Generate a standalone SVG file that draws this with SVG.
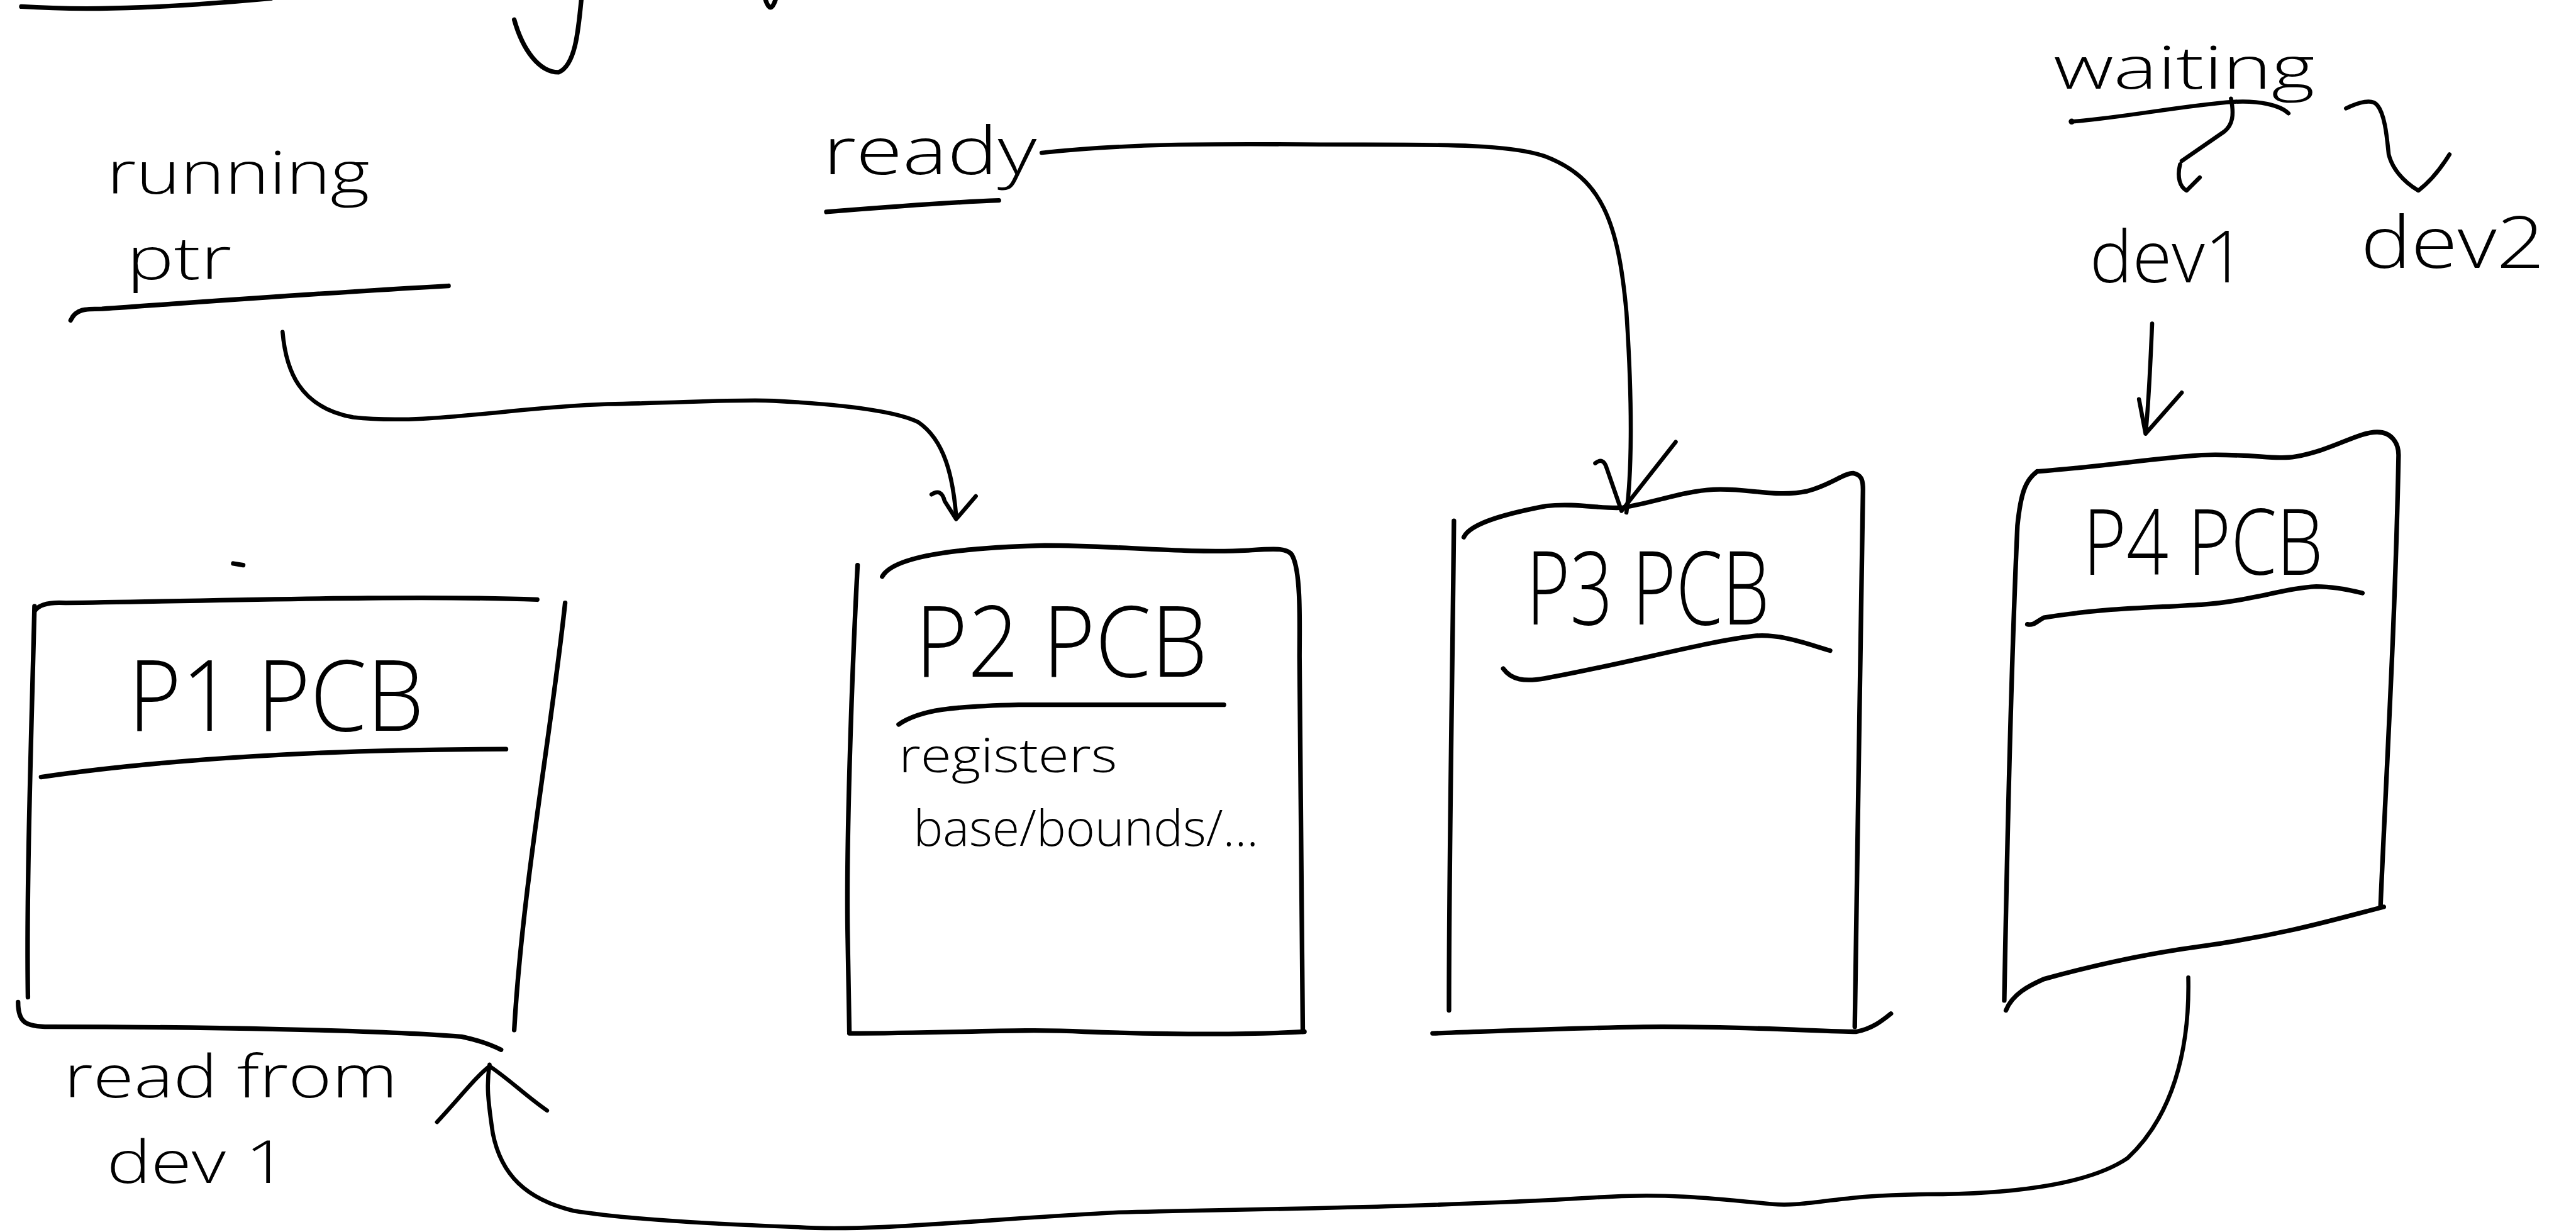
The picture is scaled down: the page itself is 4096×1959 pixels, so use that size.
<svg xmlns="http://www.w3.org/2000/svg" width="4096" height="1959" viewBox="0 0 4096 1959">
<style>
.s{fill:none;stroke:#000;stroke-width:2.8;stroke-linecap:round;stroke-linejoin:round}
.c{fill:none;stroke:#000;stroke-width:2.5;stroke-linecap:round;stroke-linejoin:round}
.t{font-family:"Open Sans","Liberation Sans",sans-serif;font-weight:300;fill:#000}
</style>
<rect width="4096" height="1959" fill="#fff"/>
<g transform="scale(2.61224)">
<g id="fragments">
<path class="s" d="M13,4 C60,7 110,4 165,-1"/>
<path class="s" d="M313,12 C318,30 328,44 340,44 C350,40 352,20 354,-2"/>
<path class="s" d="M466,0 Q469,9 472,0"/>
</g>
<g id="running-ptr">
<text class="t" x="65" y="118" font-size="36" textLength="160" lengthAdjust="spacingAndGlyphs">running</text>
<text class="t" x="77" y="170" font-size="36" textLength="64" lengthAdjust="spacingAndGlyphs">ptr</text>
<path class="s" d="M43,195 C46,188 52,188 62,188 C120,184 200,178 273,174"/>
</g>
<g id="ready">
<text class="t" x="501" y="106" font-size="40" textLength="130" lengthAdjust="spacingAndGlyphs">ready</text>
<path class="s" d="M503,129 C540,126 580,123 608,122"/>
</g>
<g id="waiting">
<text class="t" x="1250" y="54" font-size="36" textLength="159" lengthAdjust="spacingAndGlyphs">waiting</text>
</g>
<g id="dev1">
<text class="t" x="1272" y="172" font-size="44" textLength="95" lengthAdjust="spacingAndGlyphs">dev1</text>
</g>
<g id="dev2">
<text class="t" x="1437" y="163" font-size="44" textLength="112" lengthAdjust="spacingAndGlyphs">dev2</text>
</g>
<g id="p1">
<path class="s" d="M21,372 Q25,366 40,367 C120,366 250,362 327,365"/>
<path class="s" d="M21,369 C19,450 16,540 17,607"/>
<path class="s" d="M344,367 C335,450 318,540 313,627"/>
<path class="s" d="M11,610 C11,622 15,625 30,625 C120,625 230,627 281,631 Q295,634 305,639"/>
<path class="s" d="M25,473 C100,462 200,456 308,456"/>
<path class="s" d="M142,343 L148,344"/>
<text class="t" x="78" y="445" font-size="60" textLength="180" lengthAdjust="spacingAndGlyphs">P1 PCB</text>
<text class="t" x="39" y="668" font-size="36" textLength="203" lengthAdjust="spacingAndGlyphs">read from</text>
<text class="t" x="65" y="720" font-size="36" textLength="110" lengthAdjust="spacingAndGlyphs">dev 1</text>
</g>
<g id="p2">
<path class="s" d="M537,351 C545,336 600,333 636,332 C680,332 720,337 760,335 C775,334 785,333 787,339 C792,350 791,380 791,400 L793,628"/>
<path class="s" d="M522,344 C518,420 515,520 516,571 L517,628"/>
<path class="s" d="M517,629 C580,629 620,626 660,628 C720,630 760,630 794,628"/>
<path class="s" d="M547,441 C560,432 580,430 620,429 L745,429"/>
<text class="t" x="557" y="412" font-size="60" textLength="178" lengthAdjust="spacingAndGlyphs">P2 PCB</text>
<text class="t" x="547" y="470" font-size="29" textLength="133" lengthAdjust="spacingAndGlyphs">registers</text>
<text class="t" x="556" y="515" font-size="30" textLength="210" lengthAdjust="spacingAndGlyphs">base/bounds/...</text>
</g>
<g id="p3">
<path class="s" d="M891,327 C895,318 920,312 941,308 C960,306 975,310 988,309 C1010,305 1025,299 1043,298 C1065,297 1080,303 1100,299 C1115,295 1122,288 1128,288 C1133,289 1134,292 1134,298 C1133,400 1130,520 1129,625"/>
<path class="s" d="M885,317 C884,420 882,520 882,615"/>
<path class="s" d="M872,629 C930,627 980,625 1012,625 C1070,625 1110,628 1130,628 C1140,626 1146,621 1151,617"/>
<path class="s" d="M915,407 C920,414 928,415 940,413 C990,404 1040,390 1069,387 C1085,386 1100,392 1114,396"/>
<text class="t" x="929" y="380" font-size="62" textLength="148" lengthAdjust="spacingAndGlyphs">P3 PCB</text>
</g>
<g id="p4">
<path class="s" d="M1240,287 C1280,284 1310,279 1340,277 C1370,276 1385,280 1397,278 C1420,274 1435,263 1447,263 C1456,263 1460,270 1460,277 C1458,380 1452,480 1449,552"/>
<path class="s" d="M1221,615 C1225,605 1235,600 1244,596 C1280,586 1310,580 1340,576 C1390,569 1420,560 1451,552"/>
<path class="s" d="M1240,287 C1233,292 1230,300 1228,320 C1225,386 1222,500 1220,609"/>
<path class="s" d="M1234,380 C1238,381 1240,378 1244,376 C1280,370 1310,370 1340,368 C1370,366 1390,358 1410,357 C1420,357 1430,359 1438,361"/>
<text class="t" x="1268" y="350" font-size="56" textLength="146" lengthAdjust="spacingAndGlyphs">P4 PCB</text>
</g>
<g id="connectors">
<path class="c" d="M172,202 C174,225 182,248 215,254 C260,259 310,248 370,246 C420,245 450,243 471,244 C510,246 545,250 559,257 C575,268 580,290 582,314"/>
<path class="c" d="M567,301 Q573,297 575,305 L582,316 L594,302"/>
<path class="c" d="M634,93 C700,86 760,88 830,88 C880,88 920,88 940,95 C975,108 985,135 990,190 C994,250 993,290 990,312"/>
<path class="c" d="M971,282 Q976,278 978,285 L987,311 L1020,269"/>
<path class="c" d="M1261,74 C1290,72 1330,64 1359,62 C1375,61 1388,64 1393,69"/>
<circle cx="1261" cy="74" r="1.8" fill="#000"/>
<path class="c" d="M1358,60 C1360,70 1359,76 1354,80 L1328,98 M1327,100 C1325,108 1327,114 1331,116 L1339,108"/>
<path class="c" d="M1428,66 C1436,62 1444,60 1447,64 C1452,70 1453,85 1454,94 C1456,102 1462,110 1472,116 C1480,110 1486,102 1491,94"/>
<path class="c" d="M1310,197 C1309,220 1308,245 1306,264 M1302,243 L1306,264 L1328,239"/>
<path class="c" d="M1332,595 C1333,640 1322,680 1295,705 C1270,722 1220,727 1173,727 C1120,727 1100,735 1079,733 C1040,729 1010,726 970,729 C870,735 760,736 681,738 C600,742 530,750 486,747 C430,745 380,742 349,737 C320,730 305,715 300,690 C297,670 296,660 298,648"/>
<path class="c" d="M266,683 C280,668 290,655 298,649 C310,657 320,667 333,676"/>
</g>
</g>
</svg>
